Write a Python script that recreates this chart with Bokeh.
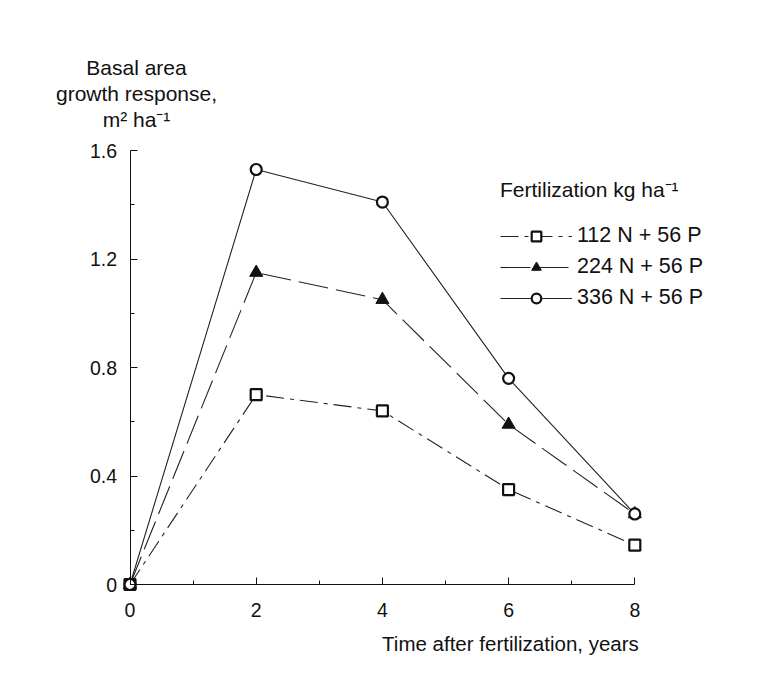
from bokeh.plotting import figure
from bokeh.models import (Range1d, LinearAxis, FixedTicker, Legend, LegendItem, Label,
                          ColumnDataSource, CustomJSTickFormatter)
from bokeh.embed import file_html
from bokeh.resources import INLINE

# ---------------- data ----------------
years = [0, 2, 4, 6, 8]
resp_112 = [0, 0.70, 0.64, 0.35, 0.145]
resp_224 = [0, 1.15, 1.05, 0.59, 0.26]
resp_336 = [0, 1.53, 1.41, 0.76, 0.26]
series_labels = ["112 N + 56 P", "224 N + 56 P", "336 N + 56 P"]
x_ticks = [0, 2, 4, 6, 8]
x_minor = [1, 3, 5, 7]
y_ticks = [0, 0.4, 0.8, 1.2, 1.6]
y_minor = [0.2, 0.6, 1.0, 1.4]
y_title_lines = ["Basal area", "growth response,", "m² ha⁻¹"]
x_title = "Time after fertilization, years"
legend_title = "Fertilization kg ha⁻¹"

# ---------------- layout ----------------
W, H = 756, 667
X0_PX, Y0_PX = 129.5, 584.0   # canvas pixel of the data origin
SX, SY = 63.1, 271.25         # pixels per data unit
FONT = "Liberation Sans"


def dx(px):
    return (px - X0_PX) / SX


def dy(py):
    return (Y0_PX - py) / SY


p = figure(width=W, height=H, x_range=Range1d(dx(0), dx(W)), y_range=Range1d(dy(H), dy(0)),
           min_border=0, output_backend="svg", toolbar_location=None,
           x_axis_type=None, y_axis_type=None)
p.grid.visible = False
p.outline_line_color = None
p.background_fill_color = "white"
p.border_fill_color = "white"

xaxis = LinearAxis(fixed_location=0, bounds=(0, 8),
                   ticker=FixedTicker(ticks=x_ticks, minor_ticks=x_minor))
yaxis = LinearAxis(fixed_location=0, bounds=(0, 1.6),
                   ticker=FixedTicker(ticks=y_ticks, minor_ticks=y_minor),
                   formatter=CustomJSTickFormatter(code="return tick === 0 ? '0' : tick.toFixed(1)"))
for ax in (xaxis, yaxis):
    ax.axis_line_color = "#111111"
    ax.axis_line_width = 1
    ax.major_tick_in = 7
    ax.major_tick_out = 0
    ax.minor_tick_in = 4
    ax.minor_tick_out = 0
    ax.major_tick_line_color = "#111111"
    ax.minor_tick_line_color = "#111111"
    ax.major_label_text_font = FONT
    ax.major_label_text_font_size = "19.5px"
    ax.major_label_text_color = "#111111"
xaxis.major_label_standoff = 18
yaxis.major_label_standoff = 13
p.add_layout(xaxis, "below")
p.add_layout(yaxis, "left")

# ---------------- series ----------------
src112 = ColumnDataSource(dict(x=years, y=resp_112))
src224 = ColumnDataSource(dict(x=years, y=resp_224))
src336 = ColumnDataSource(dict(x=years, y=resp_336))

l112 = p.line("x", "y", source=src112, line_color="#222222", line_width=1.1, line_dash="18 6 4 6")
l224 = p.line("x", "y", source=src224, line_color="#222222", line_width=1.1, line_dash="30 8")
l336 = p.line("x", "y", source=src336, line_color="#222222", line_width=1.1)

m112 = p.scatter("x", "y", source=src112, marker="square", size=11, fill_color="white",
                 line_color="#111111", line_width=2.2)
m224 = p.scatter("x", "y", source=src224, marker="triangle", size=13, fill_color="#111111",
                 line_color="#111111", line_width=1)
m336 = p.scatter("x", "y", source=src336, marker="circle", size=11, fill_color="white",
                 line_color="#111111", line_width=2.2)

# ---------------- texts ----------------
for text, py in zip(y_title_lines, [67, 93, 119]):
    p.add_layout(Label(x=dx(136), y=dy(py), text=text, text_align="center",
                       text_baseline="middle", text_font=FONT, text_font_size="21px",
                       text_color="#111111"))
p.add_layout(Label(x=x_ticks[-1], y=dy(643), text=x_title, text_align="right",
                   text_baseline="middle", text_font=FONT, text_font_size="20.5px",
                   text_color="#111111", x_offset=4))

legend = Legend(items=[LegendItem(label=series_labels[0], renderers=[l112, m112]),
                       LegendItem(label=series_labels[1], renderers=[l224, m224]),
                       LegendItem(label=series_labels[2], renderers=[l336, m336])],
                location=(500, 357), title=legend_title,
                background_fill_alpha=0, border_line_color=None, padding=0, margin=0,
                spacing=6, glyph_width=72, glyph_height=24, label_height=24,
                label_standoff=5, label_text_font=FONT, label_text_font_size="21.5px",
                label_text_color="#111111", title_text_font=FONT,
                title_text_font_size="21px", title_text_font_style="normal",
                title_text_color="#111111", title_standoff=20)
p.add_layout(legend)

open("out.html", "w").write(file_html(p, INLINE))
